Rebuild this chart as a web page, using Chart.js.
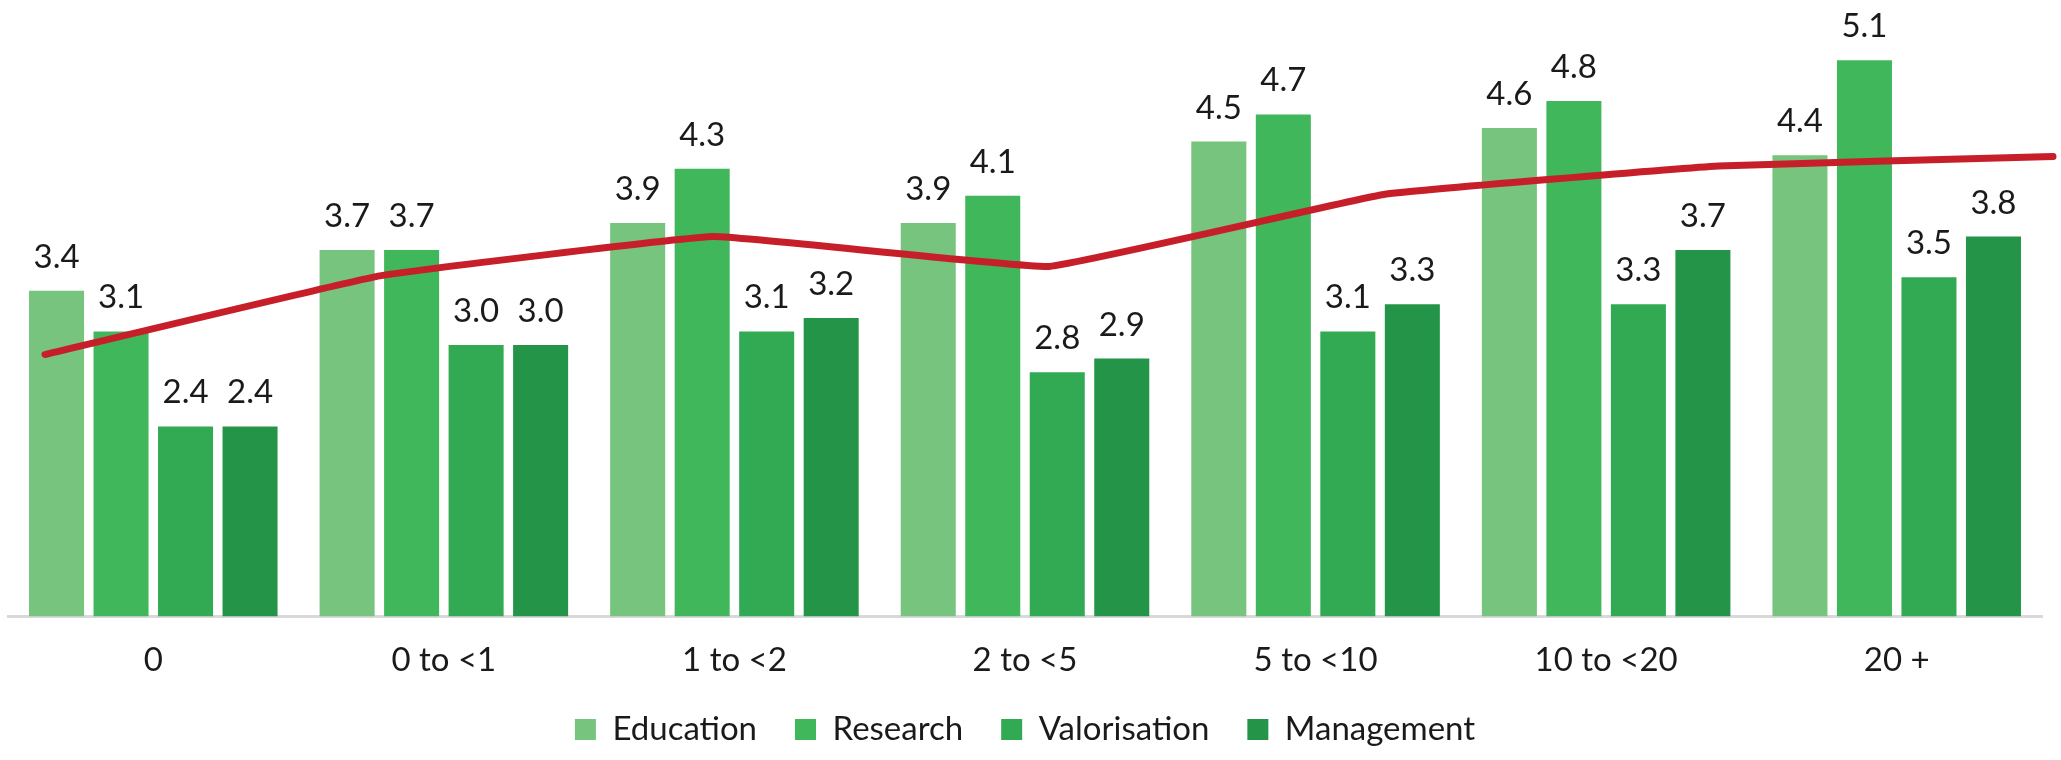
<!DOCTYPE html>
<html>
<head>
<meta charset="utf-8">
<script src="https://cdn.jsdelivr.net/npm/chart.js@4.4.1/dist/chart.umd.min.js"></script>
<style>
    body { margin: 0; background: #fff; }
    #wrap { position: relative; width: 2061px; height: 760px; }
    #wrap canvas { position: absolute; left: 0; top: 0; }
    #capaLinea { pointer-events: none; }
</style>
</head>
<body>
<div id="wrap">
    <canvas id="grafSeniority" width="2061" height="760"></canvas>
    <canvas id="capaLinea" width="2061" height="760"></canvas>
</div>
<script>
// Categorias (anos) y valores por tipo de actividad
let categorias = ['0', '0 to <1', '1 to <2', '2 to <5', '5 to <10', '10 to <20', '20 +'];
let education = [3.4, 3.7, 3.9, 3.9, 4.5, 4.6, 4.4];
let research = [3.1, 3.7, 4.3, 4.1, 4.7, 4.8, 5.1];
let valorisation = [2.4, 3.0, 3.1, 2.8, 3.1, 3.3, 3.5];
let management = [2.4, 3.0, 3.2, 2.9, 3.3, 3.7, 3.8];
let tendencia = [2.93, 3.51, 3.80, 3.58, 4.11, 4.32, 4.39];

let fuente = 'Lato, "Open Sans", sans-serif';
let yMin = 1;
let yMax = 5.5;

// Etiqueta con el valor encima de cada barra
let etiquetasBarras = {
    id: 'etiquetasBarras',
    afterDatasetsDraw(chart) {
        let ctx = chart.ctx;
        ctx.save();
        ctx.font = '33px ' + fuente;
        ctx.fillStyle = '#1a1a1a';
        ctx.textAlign = 'center';
        ctx.textBaseline = 'alphabetic';
        chart.data.datasets.forEach((ds, i) => {
            let meta = chart.getDatasetMeta(i);
            meta.data.forEach((bar, j) => {
                ctx.fillText(ds.data[j].toFixed(1), bar.x, bar.y - 23);
            });
        });
        ctx.restore();
    }
};

function grafseniority() {
    var ctx = document.getElementById('grafSeniority').getContext('2d');

    var data = {
        labels: categorias,
        datasets: [
            { label: 'Education', data: education, backgroundColor: '#76c47e' },
            { label: 'Research', data: research, backgroundColor: '#41b75b' },
            { label: 'Valorisation', data: valorisation, backgroundColor: '#32aa53' },
            { label: 'Management', data: management, backgroundColor: '#249548' }
        ]
    };

    var options = {
        responsive: false,
        animation: false,
        layout: { padding: { left: 8, right: 19, top: 6, bottom: 4 } },
        categoryPercentage: 0.888,
        barPercentage: 0.853,
        scales: {
            x: {
                grid: { display: false, drawTicks: false },
                border: { color: '#d9d9d9', width: 3 },
                ticks: {
                    color: '#1a1a1a',
                    font: { family: fuente, size: 33, lineHeight: 0.9 },
                    padding: 29
                },
                // sin relleno debajo de las etiquetas, la leyenda va justo debajo
                afterFit: scale => { scale.height = scale.height - scale.options.ticks.padding; }
            },
            y: {
                display: false,
                min: yMin,
                max: yMax
            }
        },
        plugins: {
            legend: {
                position: 'bottom',
                labels: {
                    color: '#1a1a1a',
                    font: { family: fuente, size: 33 },
                    boxWidth: 21,
                    boxHeight: 21,
                    padding: 38
                }
            },
            tooltip: { enabled: false }
        }
    };

    return new Chart(ctx, {
        type: 'bar',
        data: data,
        options: options,
        plugins: [etiquetasBarras]
    });
}

// Linea de tendencia en una capa encima de las barras
function grafTendencia(barras) {
    var ctx = document.getElementById('capaLinea').getContext('2d');
    var area = barras.chartArea;

    return new Chart(ctx, {
        type: 'line',
        data: {
            labels: categorias,
            datasets: [{
                label: 'Average',
                data: tendencia,
                borderColor: '#c71f2a',
                borderWidth: 7,
                borderCapStyle: 'round',
                borderJoinStyle: 'round',
                pointRadius: 0,
                tension: 0.08,
                clip: false
            }]
        },
        options: {
            responsive: false,
            animation: false,
            layout: { padding: { left: 45, right: 8, top: area.top, bottom: 760 - area.bottom } },
            scales: {
                x: { display: false, offset: false },
                y: { display: false, min: yMin, max: yMax }
            },
            plugins: { legend: { display: false }, tooltip: { enabled: false } }
        }
    });
}

let barras = grafseniority()
grafTendencia(barras)
</script>
</body>
</html>
